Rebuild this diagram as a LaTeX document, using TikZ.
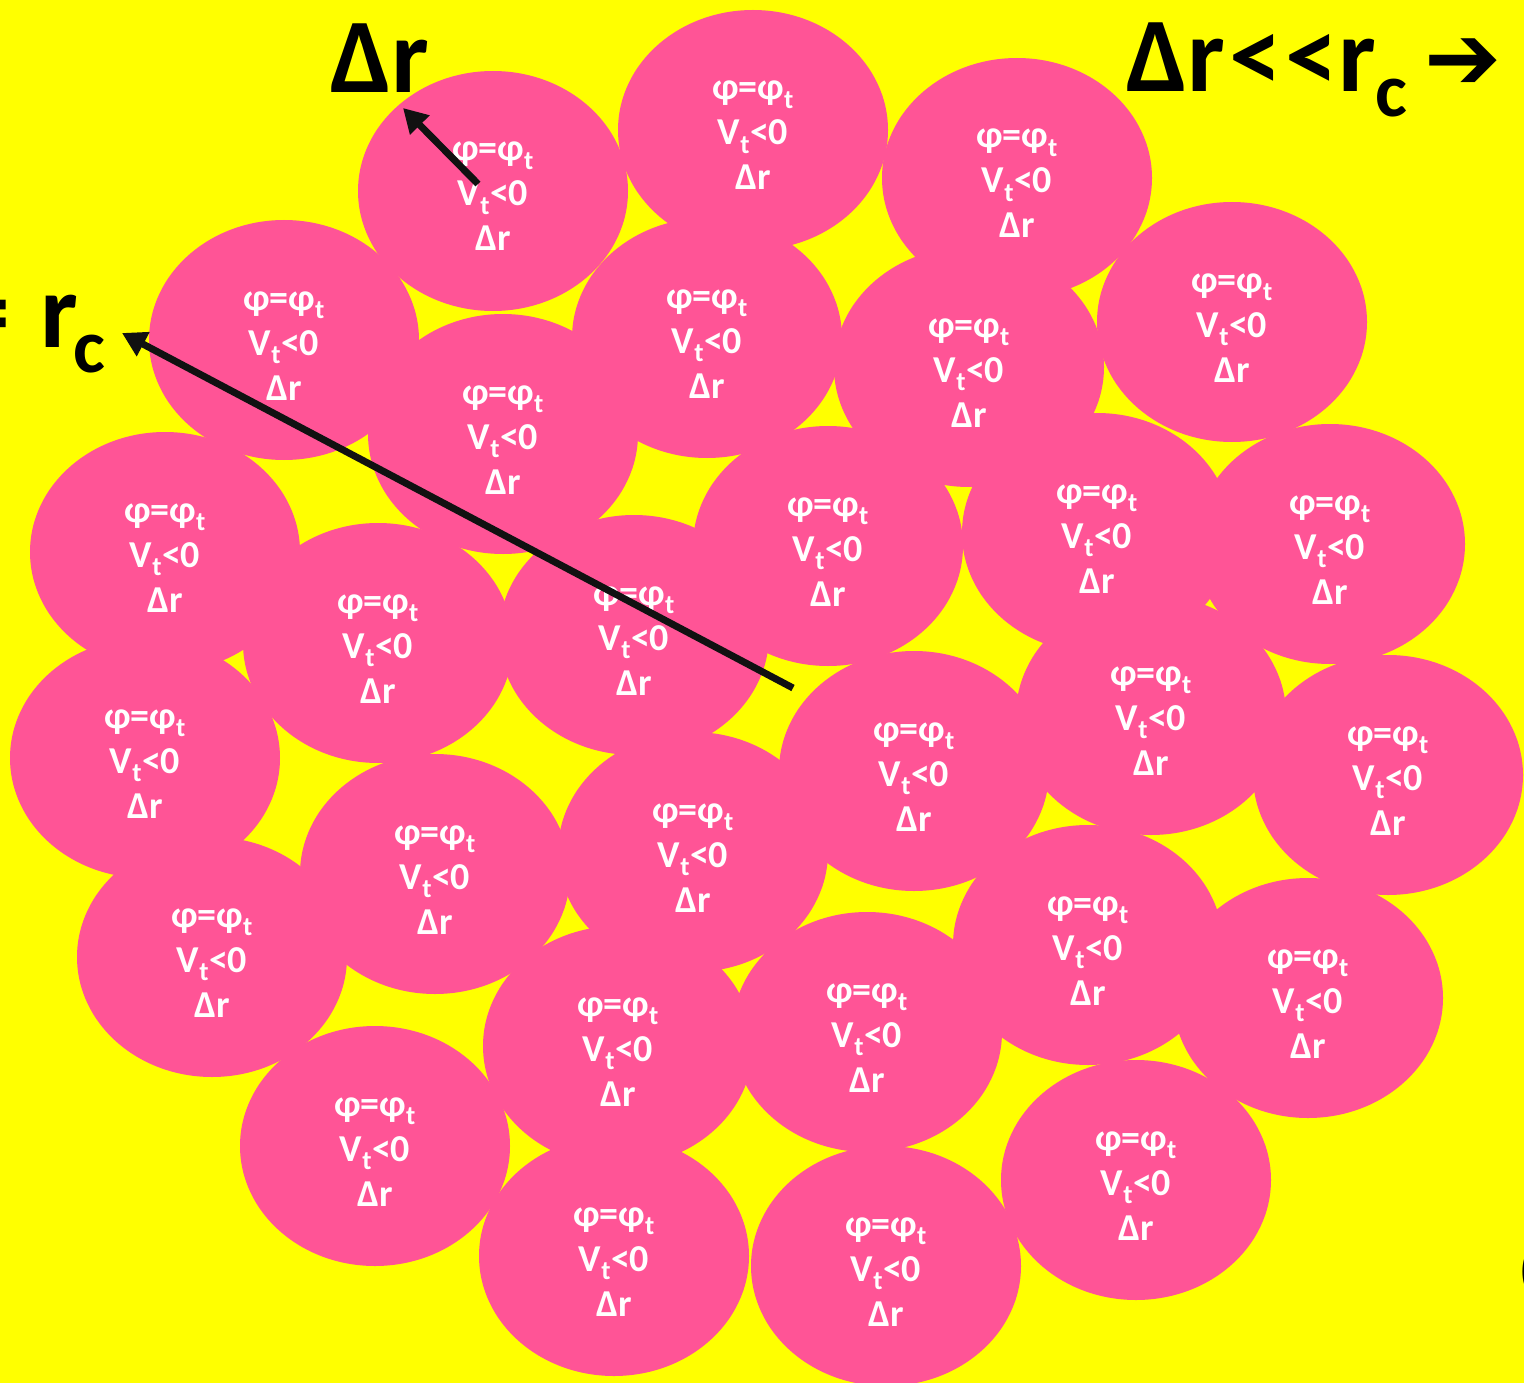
\documentclass[tikz,border=0pt]{standalone}
\usepackage{fontspec}
\setmainfont{Carlito}
\newfontfamily\arrowfont{DejaVu Sans}
\usetikzlibrary{shapes.geometric,arrows.meta}
\definecolor{bgyellow}{RGB}{255,255,0}
\definecolor{blobpink}{RGB}{255,84,150}
\definecolor{inkblack}{RGB}{17,17,17}
\tikzset{
  blob/.style={ellipse, fill=blobpink, draw=none, minimum width=270pt, minimum height=240pt, inner sep=0pt,
    text=white, align=center, font=\fontsize{38}{45}\selectfont\bfseries},
  biglabel/.style={inner sep=0pt, text=black, font=\fontsize{106}{110}\selectfont\bfseries},
  sublabel/.style={inner sep=0pt, text=black, font=\fontsize{76}{80}\selectfont\bfseries},
  pointer/.style={draw=inkblack, line width=7pt, -{Triangle[length=24pt,width=26pt]}}
}
\newcommand{\blobtext}{\rule{0pt}{30pt}φ=φ\textsubscript{t}\\V\textsubscript{t}<0\\Δr}
\begin{document}
\begin{tikzpicture}[x=1pt,y=-1pt]
\fill[bgyellow] (0,0) rectangle (1524,1383);
\useasboundingbox (0,0) rectangle (1524,1383);
\clip (0,0) rectangle (1524,1383);
\foreach \x/\y [count=\i] in {
  493/191, 753/130, 1017/178, 284/340, 707/338, 969/367, 1232/322, 503/434,
  165/552, 828/546, 1097/533, 1330/544, 378/643, 634/635, 145/758, 914/771,
  1151/715, 1388/775, 435/874, 693/852, 212/957, 1088/945, 1308/998, 618/1046,
  867/1032, 375/1146, 1136/1180, 614/1256, 886/1266}
  { \node[blob] (e\i) at (\x,\y) {\blobtext}; }
% labels
\node[biglabel, anchor=base west] (dr) at (330,93) {Δr};
\node[biglabel, anchor=base west] (drrc) at (1126,92) {Δr\kern4pt<\kern4pt<r};
\node[sublabel, anchor=base west] (drrcsub) at (drrc.base east) [yshift=-25pt, xshift=-1pt] {c};
\node[anchor=west, inner sep=0pt, font=\arrowfont\bfseries\fontsize{92}{92}\selectfont] (rarrow) at (1424,64) {➔};
\node[biglabel, anchor=base east] (eq) at (10,347) {=};
\node[biglabel, anchor=base west] (rc) at (40,347) {r};
\node[sublabel, anchor=base west] (rcsub) at (73,372) {c};
\node[inner sep=0pt, anchor=west, font=\fontsize{56}{56}\selectfont\bfseries] (paren) at (1519,1272) {(};
% pointers
\coordinate (longstart) at (793,688);
\coordinate (longend) at (122,333);
\coordinate (shortstart) at (478,184);
\coordinate (shortend) at (403,108);
\draw[pointer] (longstart) -- (longend);
\draw[pointer] (shortstart) -- (shortend);
\end{tikzpicture}
\end{document}
